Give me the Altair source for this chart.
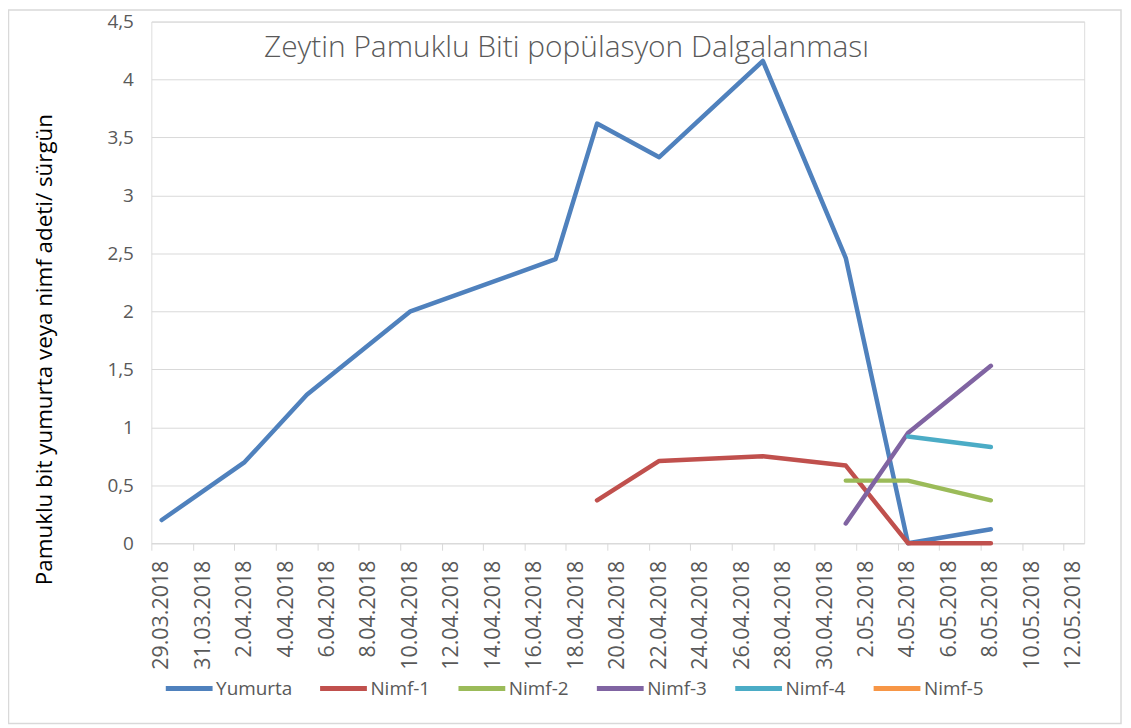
import altair as alt
import pandas as pd

# ---------------- data ----------------
series_names = ["Yumurta", "Nimf-1", "Nimf-2", "Nimf-3", "Nimf-4", "Nimf-5"]
series_colors = ["#4F81BD", "#C0504D", "#9BBB59", "#8064A2", "#4BACC6", "#F79646"]

yumurta_dates = ["2018-03-29", "2018-04-02", "2018-04-05", "2018-04-10", "2018-04-17",
                 "2018-04-19", "2018-04-22", "2018-04-27", "2018-05-01", "2018-05-04", "2018-05-08"]
yumurta_values = [0.20, 0.70, 1.28, 2.00, 2.45, 3.62, 3.33, 4.16, 2.46, 0.00, 0.12]

nimf1_dates = ["2018-04-19", "2018-04-22", "2018-04-27", "2018-05-01", "2018-05-04", "2018-05-08"]
nimf1_values = [0.37, 0.71, 0.75, 0.67, 0.00, 0.00]

nimf2_dates = ["2018-05-01", "2018-05-04", "2018-05-08"]
nimf2_values = [0.54, 0.54, 0.37]

nimf3_dates = ["2018-05-01", "2018-05-04", "2018-05-08"]
nimf3_values = [0.17, 0.95, 1.53]

nimf4_dates = ["2018-05-04", "2018-05-08"]
nimf4_values = [0.92, 0.83]

nimf5_dates = []
nimf5_values = []

tick_dates = ["2018-03-29", "2018-03-31", "2018-04-02", "2018-04-04", "2018-04-06", "2018-04-08",
              "2018-04-10", "2018-04-12", "2018-04-14", "2018-04-16", "2018-04-18", "2018-04-20",
              "2018-04-22", "2018-04-24", "2018-04-26", "2018-04-28", "2018-04-30", "2018-05-02",
              "2018-05-04", "2018-05-06", "2018-05-08", "2018-05-10", "2018-05-12"]
x_domain = ["2018-03-28T12:00:00", "2018-05-12T12:00:00"]
y_ticks = [0, 0.5, 1, 1.5, 2, 2.5, 3, 3.5, 4, 4.5]

chart_title = "Zeytin Pamuklu Biti popülasyon Dalgalanması"
y_title = "Pamuklu bit yumurta veya nimf adeti/ sürgün"

# ---------------- build table ----------------
all_series = [
    (series_names[0], yumurta_dates, yumurta_values),
    (series_names[1], nimf1_dates, nimf1_values),
    (series_names[2], nimf2_dates, nimf2_values),
    (series_names[3], nimf3_dates, nimf3_values),
    (series_names[4], nimf4_dates, nimf4_values),
    (series_names[5], nimf5_dates, nimf5_values),
]
rows = []
for order, (name, dates, vals) in enumerate(all_series):
    for d, v in zip(dates, vals):
        rows.append({"seri": name, "tarih": d + "T00:00:00Z", "deger": v, "sira": order})
df = pd.DataFrame(rows)


def ms(s):
    return int(pd.Timestamp(s, tz="UTC").timestamp() * 1000)


tick_ms = [ms(d) for d in tick_dates]
domain_ms = [ms(d) for d in x_domain]

W, H = 937, 524
TOP = 12
half_day = W / 45 / 2

FONT = "Open Sans"
GREY = "#595959"
GRID = "#d9d9d9"

lines = alt.Chart(df).mark_line(strokeWidth=4.5, strokeCap="round", strokeJoin="round").encode(
    x=alt.X(
        "tarih:T",
        scale=alt.Scale(type="utc", domain=domain_ms),
        axis=alt.Axis(
            values=tick_ms,
            labelExpr="utcFormat(datum.value, '%-d.%m.%Y')",
            labelAngle=270,
            labelAlign="right",
            labelBaseline="middle",
            labelPadding=10,
            labelFontSize=21.5,
            labelFont=FONT,
            labelColor=GREY,
            labelOverlap=False,
            labelBound=False,
            labelFlush=False,
            tickOffset=-half_day,
            labelOffset=half_day,
            tickSize=7,
            tickColor=GRID,
            domainColor=GRID,
            grid=False,
            title=None,
        ),
    ),
    y=alt.Y(
        "deger:Q",
        scale=alt.Scale(domain=[0, 4.5], nice=False),
        axis=alt.Axis(
            values=y_ticks,
            labelExpr="replace(toString(datum.value), '.', ',')",
            labelPadding=18,
            labelFontSize=19,
            labelFont=FONT,
            labelColor=GREY,
            ticks=False,
            domain=False,
            grid=True,
            gridColor=GRID,
            gridWidth=1,
            title=y_title,
            titleFont=FONT,
            titleFontSize=22.5,
            titleFontWeight="normal",
            titleColor="#000000",
            titleAngle=270,
            titleAlign="center",
            titleBaseline="middle",
            titleX=-107,
            titleY=329,
        ),
    ),
    color=alt.Color(
        "seri:N",
        scale=alt.Scale(domain=series_names, range=series_colors),
        sort=series_names,
        legend=alt.Legend(
            orient="none",
            legendX=12,
            legendY=644,
            direction="horizontal",
            title=None,
            symbolType="stroke",
            symbolSize=2209,
            symbolStrokeWidth=5,
            labelFont=FONT,
            labelFontSize=19,
            labelColor=GREY,
            labelOffset=1,
            columnPadding=17,
            padding=0,
        ),
    ),
    order=alt.Order("sira:Q"),
)

title_df = pd.DataFrame({"t": [chart_title]})
title_mark = alt.Chart(title_df).mark_text(
    font=FONT, fontSize=30, fontWeight=300, color=GREY, align="center", baseline="middle"
).encode(x=alt.value(417), y=alt.value(47 - 8 - TOP), text="t:N")

border = alt.Chart(title_df).mark_rect(
    fillOpacity=0, stroke=GRID, strokeWidth=1.5
).encode(x=alt.value(-143.5), x2=alt.value(974), y=alt.value(-TOP + 0.5), y2=alt.value(717 - TOP))

chart = alt.layer(border, lines, title_mark).properties(
    width=W,
    height=H,
    autosize=alt.AutoSizeParams(type="none"),
    padding={"left": 144, "top": TOP, "right": 39, "bottom": 720 - TOP - H},
).configure_view(stroke=None).configure(background="white")

chart.save("out.html", embed_options={"renderer": "svg", "actions": False})
